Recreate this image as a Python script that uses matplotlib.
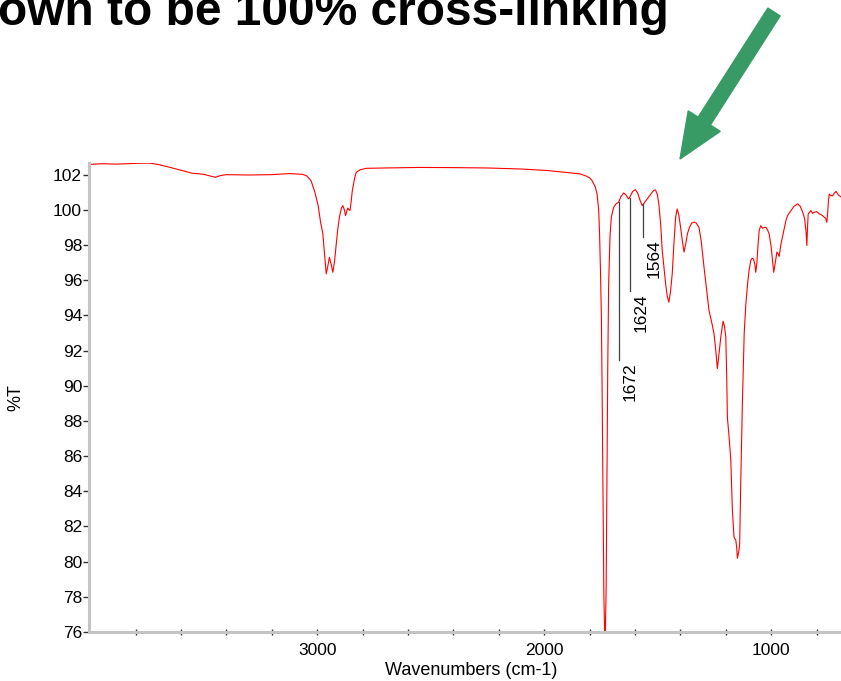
import matplotlib.pyplot as plt
import numpy as np
from matplotlib.patches import FancyArrow
from matplotlib.ticker import FixedLocator, MultipleLocator

plt.rcParams['font.family'] = ['Liberation Sans', 'DejaVu Sans']

# IR spectrum (wavenumber cm-1, %T)
wavenumber = [4005, 3950, 3880, 3800, 3741, 3700, 3650, 3600, 3550, 3500,
              3470, 3449, 3425, 3401, 3300, 3200, 3120, 3064, 3045, 3027,
              3010, 2995, 2985, 2975, 2966, 2960, 2953, 2946, 2938, 2931,
              2924, 2917, 2910, 2902, 2893, 2887, 2880, 2875, 2870, 2865,
              2860, 2855, 2850, 2845, 2835, 2828, 2810, 2783, 2700, 2548,
              2400, 2250, 2100, 1990, 1920, 1861, 1841, 1815, 1800, 1789,
              1775, 1767, 1760, 1756, 1752, 1748, 1745, 1741, 1737, 1732,
              1727, 1723, 1720, 1716, 1710, 1704, 1694, 1683, 1672, 1662,
              1650, 1640, 1632, 1627, 1620, 1610, 1598, 1588, 1578, 1568,
              1556, 1546, 1530, 1518, 1510, 1502, 1495, 1487, 1480, 1472,
              1465, 1458, 1451, 1444, 1436, 1428, 1421, 1414, 1407, 1399,
              1391, 1384, 1376, 1369, 1360, 1350, 1340, 1330, 1318, 1308,
              1296, 1285, 1274, 1262, 1252, 1244, 1237, 1230, 1222, 1212,
              1206, 1200, 1196, 1193, 1185, 1178, 1171, 1164, 1160, 1156,
              1152, 1149, 1144, 1139, 1134, 1127, 1122, 1119, 1112, 1104,
              1097, 1090, 1084, 1078, 1072, 1068, 1063, 1058, 1053, 1046,
              1038, 1030, 1023, 1016, 1009, 1000, 994, 989, 982, 975,
              970, 965, 957, 945, 935, 928, 913, 900, 883, 872,
              861, 853, 847, 843, 840, 837, 825, 818, 810, 800,
              788, 777, 766, 760, 755, 751, 748, 744, 737, 729,
              722, 714, 707, 700, 689, 680, 660]
transmittance = [102.58, 102.62, 102.60, 102.64, 102.66, 102.58, 102.42, 102.25, 102.08, 102.02,
                 101.92, 101.85, 101.95, 102.00, 101.98, 102.00, 102.06, 102.02, 101.92, 101.66,
                 101.0, 100.2, 99.3, 98.65, 97.3, 96.36, 96.8, 97.3, 96.9, 96.45,
                 97.0, 97.9, 98.8, 99.58, 100.1, 100.24, 100.0, 99.67, 99.9, 100.1,
                 100.02, 99.96, 100.5, 101.1, 101.8, 102.13, 102.28, 102.36, 102.38, 102.41,
                 102.40, 102.38, 102.32, 102.24, 102.15, 102.07, 102.04, 101.92, 101.82, 101.66,
                 101.3, 100.9, 100.0, 98.65, 96.5, 93.9, 90.0, 84.0, 78.0, 75.0,
                 78.5, 86.0, 91.0, 95.8, 98.5, 99.6, 100.14, 100.35, 100.43, 100.75,
                 100.96, 100.85, 100.68, 100.62, 100.8, 101.05, 101.15, 100.95, 100.55, 100.24,
                 100.45, 100.62, 100.9, 101.1, 101.13, 100.9, 100.34, 99.2, 97.69, 96.7,
                 95.8, 95.1, 94.75, 95.3, 96.36, 98.2, 99.58, 100.05, 99.7, 99.0,
                 98.2, 97.6, 98.1, 98.64, 99.0, 99.25, 99.3, 99.25, 99.0, 98.2,
                 96.74, 95.5, 94.28, 93.6, 92.96, 92.0, 90.97, 91.8, 92.77, 93.67,
                 93.4, 92.77, 90.5, 88.2, 87.0, 85.77, 82.93, 81.42, 81.3, 81.23,
                 80.8, 80.19, 80.5, 80.94, 84.63, 89.0, 91.5, 92.96, 94.6, 95.8,
                 96.6, 97.12, 97.25, 97.2, 96.9, 96.45, 97.0, 98.0, 98.82, 99.1,
                 98.95, 99.0, 99.0, 98.85, 98.64, 97.87, 97.1, 96.45, 97.0, 97.6,
                 97.5, 97.35, 98.06, 98.8, 99.4, 99.67, 99.96, 100.2, 100.34, 100.2,
                 99.86, 99.5, 98.82, 97.97, 99.0, 99.77, 99.96, 99.8, 99.86, 99.9,
                 99.77, 99.7, 99.58, 99.5, 99.29, 99.9, 100.52, 100.9, 100.8, 100.8,
                 100.95, 101.05, 100.9, 100.8, 100.7, 100.75, 100.8]

# peak labels and where their marker lines end (%T)
peak_labels = [1672, 1624, 1564]
peak_line_ends = [91.44, 95.38, 98.44]

fig = plt.figure(figsize=(8.41, 6.81), dpi=100)
ax = fig.add_axes([0.1058, 0.0720, 0.9084, 0.6891])

ax.plot(wavenumber, transmittance, color='red', linewidth=0.8)

# marker lines from the curve down to the label
wn_sorted = np.array(wavenumber)[::-1]
t_sorted = np.array(transmittance)[::-1]
for peak, end in zip(peak_labels, peak_line_ends):
    top = np.interp(peak, wn_sorted, t_sorted)
    ax.plot([peak, peak], [top, end], color='#404040', linewidth=0.9)
    ax.annotate(str(peak), xy=(peak, end), xytext=(8, -1.5),
                textcoords='offset points', rotation=90,
                ha='center', va='top', fontsize=12.5, color='black')

ax.set_xlim(4005, 640)
ax.set_ylim(76.0, 102.68)

ax.xaxis.set_major_locator(FixedLocator([3000, 2000, 1000]))
ax.xaxis.set_minor_locator(FixedLocator([3800, 3600, 3400, 3200, 2800, 2600, 2400, 2200,
                                         1800, 1600, 1400, 1200, 800]))
ax.yaxis.set_major_locator(MultipleLocator(2))
ax.yaxis.set_minor_locator(MultipleLocator(0.5))

for side in ['top', 'right']:
    ax.spines[side].set_visible(False)
for side in ['left', 'bottom']:
    ax.spines[side].set_color('#c4c4c4')
    ax.spines[side].set_linewidth(2.2)

ax.tick_params(axis='both', which='major', labelsize=12.5, color='#333333',
               width=1, length=4)
ax.tick_params(axis='x', which='major', pad=6)
ax.tick_params(axis='y', which='major', pad=1)
ax.tick_params(axis='x', which='both', direction='inout')
ax.tick_params(axis='x', which='minor', color='#333333', width=1, length=4)
ax.tick_params(axis='y', which='minor', color='#333333', width=1, length=2,
               direction='inout')

ax.set_xlabel('Wavenumbers (cm-1)', fontsize=13, labelpad=3)
ax.set_ylabel('%T', fontsize=13)
ax.yaxis.set_label_coords(-0.084, 0.5)

# slide title (cut off at the top-left of the picture)
fig.text(-0.002, 0.9633, 'own to be 100% cross-linking', fontsize=34.5,
         fontweight='bold', ha='left', va='baseline')

# green arrow pointing at the carbonyl region
arrow = FancyArrow(7.74, 6.69, -0.94, -1.47, width=0.145, head_width=0.38,
                   head_length=0.45, length_includes_head=True,
                   color='#389b66', transform=fig.dpi_scale_trans)
fig.patches.append(arrow)

fig.savefig('out.png', dpi=100)
